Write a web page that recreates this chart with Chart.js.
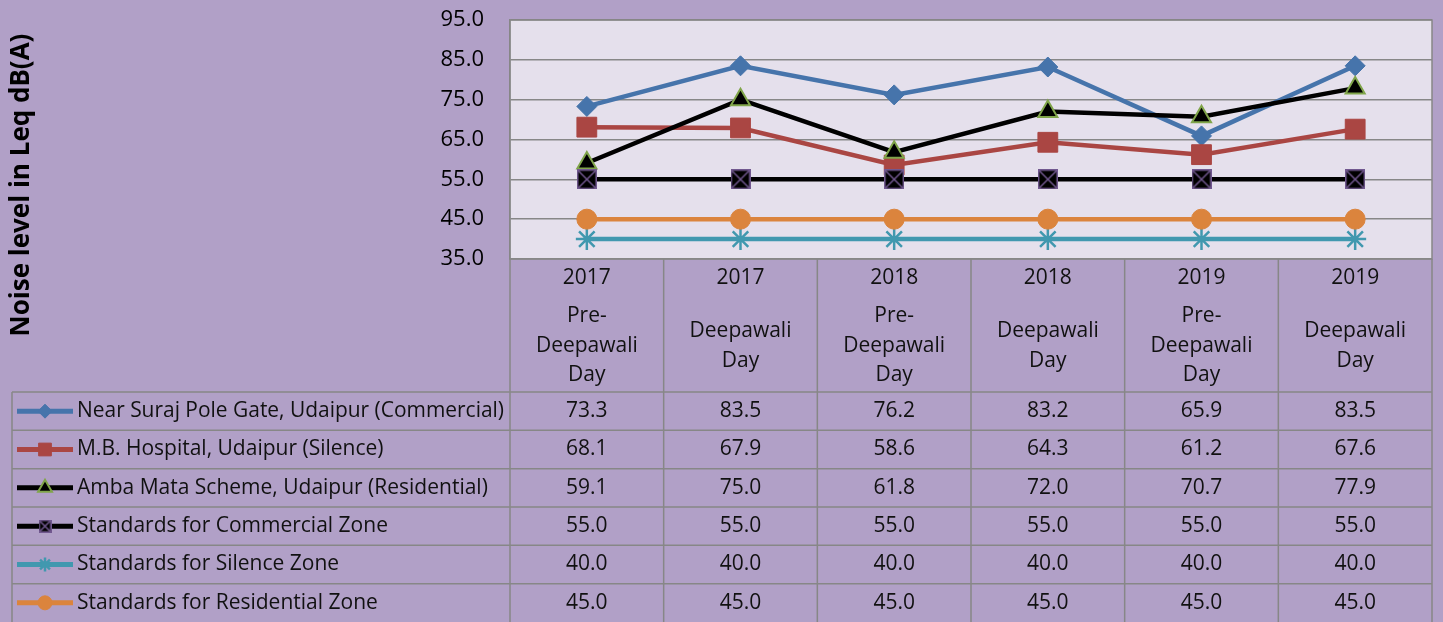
<!DOCTYPE html>
<html>
<head>
<meta charset="utf-8">
<script src="https://cdn.jsdelivr.net/npm/chart.js@4.4.1/dist/chart.umd.min.js"></script>
<style>
  html, body { margin: 0; padding: 0; background: #B1A0C7; }
  #wrap { width: 1443px; height: 622px; }
</style>
</head>
<body>
<div id="wrap"><canvas id="noise-chart" width="1443" height="622"></canvas></div>
<script>
// values
const years = ['2017', '2017', '2018', '2018', '2019', '2019'];
const occasions = [
  ['Pre-', 'Deepawali', 'Day'],
  ['Deepawali', 'Day'],
  ['Pre-', 'Deepawali', 'Day'],
  ['Deepawali', 'Day'],
  ['Pre-', 'Deepawali', 'Day'],
  ['Deepawali', 'Day']
];
const seriesNames = [
  'Near Suraj Pole Gate, Udaipur (Commercial)',
  'M.B. Hospital, Udaipur (Silence)',
  'Amba Mata Scheme, Udaipur (Residential)',
  'Standards for Commercial Zone',
  'Standards for Silence Zone',
  'Standards for Residential Zone'
];
const surajPole = [73.3, 83.5, 76.2, 83.2, 65.9, 83.5];
const mbHospital = [68.1, 67.9, 58.6, 64.3, 61.2, 67.6];
const ambaMata = [59.1, 75.0, 61.8, 72.0, 70.7, 77.9];
const stdCommercial = [55.0, 55.0, 55.0, 55.0, 55.0, 55.0];
const stdSilence = [40.0, 40.0, 40.0, 40.0, 40.0, 40.0];
const stdResidential = [45.0, 45.0, 45.0, 45.0, 45.0, 45.0];
const yMin = 35, yMax = 95, yStep = 10;
const yTitle = 'Noise level in Leq dB(A)';

const FONT = '"Open Sans", "Noto Sans", sans-serif';
const GRID = '#878787';
const TEXT = '#111111';

// black box with purple cross (marker of the commercial standard)
function boxCross(size) {
  const c = document.createElement('canvas');
  c.width = size; c.height = size;
  const g = c.getContext('2d');
  g.fillStyle = '#000';
  g.fillRect(0, 0, size, size);
  g.strokeStyle = '#71588F';
  g.lineWidth = 1.5;
  g.strokeRect(0.75, 0.75, size - 1.5, size - 1.5);
  g.beginPath();
  g.moveTo(1, 1); g.lineTo(size - 1, size - 1);
  g.moveTo(size - 1, 1); g.lineTo(1, size - 1);
  g.stroke();
  return c;
}
const boxBig = boxCross(20);
const boxSmall = boxCross(13);

function series(i, data, color, style, radius, bg, border, bw) {
  return {
    label: seriesNames[i],
    data: data,
    borderColor: color,
    backgroundColor: color,
    borderWidth: 4.5,
    pointStyle: style,
    pointRadius: radius,
    pointBackgroundColor: bg,
    pointBorderColor: border,
    pointBorderWidth: bw,
    tension: 0,
    order: 6 - i
  };
}

const datasets = [
  series(0, surajPole, '#4674AB', 'rectRot', 10, '#4674AB', '#4674AB', 1),
  series(1, mbHospital, '#AA4643', 'rect', 14, '#AA4643', '#AA4643', 1),
  series(2, ambaMata, '#000000', 'triangle', 11, '#000000', '#80A54A', 2),
  series(3, stdCommercial, '#000000', boxBig, 10, '#000000', '#000000', 0),
  series(4, stdSilence, '#4198AF', 'star', 11, '#4198AF', '#4198AF', 2.5),
  series(5, stdResidential, '#DB843D', 'circle', 10, '#DB843D', '#DB843D', 1)
];
const legendMarks = [
  { style: 'rectRot', r: 7 },
  { style: 'rect', r: 9 },
  { style: 'triangle', r: 8 },
  { style: boxSmall, r: 7 },
  { style: 'star', r: 7 },
  { style: 'circle', r: 7 }
];

const TABLE_TOP = 392;
const TABLE_BOTTOM = 622;
const TABLE_LEFT = 12;

const backdrop = {
  id: 'backdrop',
  beforeDraw(chart) {
    const { ctx, chartArea: a } = chart;
    ctx.save();
    ctx.fillStyle = '#B1A0C7';
    ctx.fillRect(0, 0, chart.width, chart.height);
    ctx.fillStyle = '#E5E0EC';
    ctx.fillRect(a.left, a.top, a.right - a.left, a.bottom - a.top);
    ctx.restore();
  },
  beforeDatasetsDraw(chart) {
    const { ctx, chartArea: a } = chart;
    ctx.save();
    ctx.strokeStyle = GRID;
    ctx.lineWidth = 1.5;
    ctx.strokeRect(a.left, a.top, a.right - a.left, a.bottom - a.top);
    ctx.restore();
  },
  afterDraw(chart) {
    const { ctx, chartArea: a } = chart;
    const xs = chart.scales.x;
    const n = years.length;
    const colW = (a.right - a.left) / n;
    const rowH = (TABLE_BOTTOM - TABLE_TOP) / datasets.length;
    ctx.save();
    ctx.strokeStyle = GRID;
    ctx.lineWidth = 1.5;
    ctx.beginPath();
    for (let i = 0; i <= n; i++) {
      const x = a.left + i * colW;
      ctx.moveTo(x, a.bottom);
      ctx.lineTo(x, TABLE_BOTTOM);
    }
    ctx.moveTo(TABLE_LEFT, TABLE_TOP);
    ctx.lineTo(TABLE_LEFT, TABLE_BOTTOM);
    for (let r = 0; r < datasets.length; r++) {
      const y = TABLE_TOP + r * rowH;
      ctx.moveTo(TABLE_LEFT, y);
      ctx.lineTo(a.right, y);
    }
    ctx.stroke();

    // category header
    ctx.fillStyle = TEXT;
    ctx.font = '21px ' + FONT;
    ctx.textAlign = 'center';
    ctx.textBaseline = 'middle';
    for (let i = 0; i < n; i++) {
      const cx = xs.getPixelForValue(i);
      ctx.fillText(years[i], cx, 278);
      const lines = occasions[i];
      const start = 346 - (lines.length - 1) * 29.5 / 2;
      lines.forEach((t, k) => ctx.fillText(t, cx, start + k * 29.5));
    }

    // data rows
    datasets.forEach((ds, r) => {
      const cy = TABLE_TOP + (r + 0.5) * rowH;
      ctx.fillStyle = TEXT;
      ctx.textAlign = 'center';
      ds.data.forEach((v, i) => ctx.fillText(v.toFixed(1), xs.getPixelForValue(i), cy));

      ctx.strokeStyle = ds.borderColor;
      ctx.lineWidth = 5;
      ctx.beginPath();
      ctx.moveTo(17, cy);
      ctx.lineTo(73, cy);
      ctx.stroke();
      const m = legendMarks[r];
      if (typeof m.style === 'string') {
        ctx.fillStyle = ds.pointBackgroundColor;
        ctx.strokeStyle = ds.pointBorderColor;
        ctx.lineWidth = ds.pointBorderWidth;
        Chart.helpers.drawPoint(ctx, { pointStyle: m.style, radius: m.r, borderWidth: ds.pointBorderWidth, rotation: 0 }, 45, cy);
      } else {
        ctx.drawImage(m.style, 45 - m.style.width / 2, cy - m.style.height / 2);
      }
      ctx.fillStyle = TEXT;
      ctx.textAlign = 'left';
      ctx.fillText(ds.label, 77, cy, 427);
    });

    // axis title
    ctx.translate(22, 185);
    ctx.rotate(-Math.PI / 2);
    ctx.font = 'bold 26px ' + FONT;
    ctx.textAlign = 'center';
    ctx.fillStyle = '#000';
    ctx.fillText(yTitle, 0, 0);
    ctx.restore();
  }
};

new Chart(document.getElementById('noise-chart').getContext('2d'), {
  type: 'line',
  data: { labels: years.map((y, i) => y + ' ' + occasions[i].join(' ')), datasets: datasets },
  options: {
    responsive: false,
    animation: false,
    layout: { autoPadding: false, padding: { top: 20, right: 11, left: 0, bottom: 0 } },
    plugins: { legend: { display: false }, tooltip: { enabled: false } },
    scales: {
      x: {
        offset: true,
        grid: { display: false },
        border: { display: false },
        ticks: { display: false },
        afterFit(scale) {
          scale.height = 363;
          scale.paddingLeft = 0;
          scale.paddingRight = 0;
        }
      },
      y: {
        min: yMin,
        max: yMax,
        ticks: {
          stepSize: yStep,
          padding: 26,
          color: '#000',
          font: { family: FONT, size: 22 },
          callback: v => v.toFixed(1)
        },
        grid: { color: GRID, lineWidth: 1.5, drawTicks: false },
        border: { display: true, color: GRID, width: 1.5 },
        afterFit(scale) {
          scale.width = 510;
          scale.paddingTop = 0;
          scale.paddingBottom = 0;
        }
      }
    }
  },
  plugins: [backdrop]
});
</script>
</body>
</html>
